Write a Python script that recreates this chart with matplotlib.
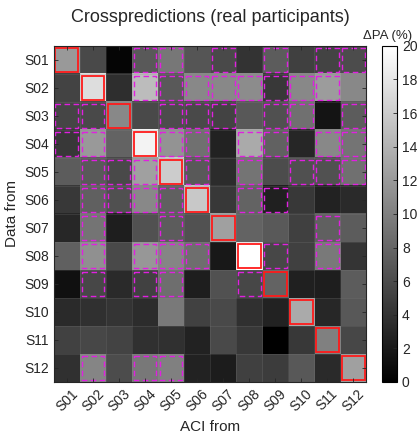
import numpy as np
import matplotlib
matplotlib.use("Agg")
import matplotlib.pyplot as plt
from matplotlib.patches import Rectangle

plt.rcParams['font.family'] = ['Liberation Sans', 'DejaVu Sans']
plt.rcParams['text.color'] = "#262626"
plt.rcParams['axes.labelcolor'] = "#262626"
plt.rcParams['xtick.color'] = "#262626"
plt.rcParams['ytick.color'] = "#262626"

# Dados
labels = ["S01", "S02", "S03", "S04", "S05", "S06", "S07", "S08", "S09", "S10", "S11", "S12"]

row_s01 = [12.0, 5.8, 0.4, 7.0, 9.3, 6.7, 5.8, 4.0, 7.2, 5.0, 5.3, 6.0]
row_s02 = [5.3, 17.3, 3.6, 14.7, 7.0, 10.7, 10.7, 11.0, 4.4, 10.7, 12.2, 10.7]
row_s03 = [5.4, 5.8, 10.7, 5.8, 6.0, 5.8, 5.3, 6.9, 6.3, 8.8, 1.6, 7.2]
row_s04 = [4.5, 12.0, 7.8, 19.0, 11.6, 8.8, 2.7, 13.3, 7.7, 3.0, 10.7, 9.1]
row_s05 = [7.2, 7.0, 5.8, 12.5, 16.0, 7.0, 3.5, 9.1, 6.0, 6.3, 6.4, 8.8]
row_s06 = [4.5, 7.5, 6.3, 10.7, 7.5, 15.7, 4.5, 7.8, 2.5, 4.4, 2.7, 3.3]
row_s07 = [3.1, 9.1, 2.4, 6.4, 7.2, 6.4, 12.5, 7.8, 7.0, 5.0, 7.5, 7.2]
row_s08 = [7.5, 11.3, 5.8, 11.8, 10.4, 8.6, 1.9, 20.0, 5.6, 5.0, 9.6, 4.2]
row_s09 = [1.3, 5.6, 3.3, 5.2, 8.6, 2.4, 6.4, 5.6, 7.8, 2.5, 2.4, 7.2]
row_s10 = [3.3, 3.8, 4.2, 3.5, 9.6, 5.2, 5.8, 3.8, 2.7, 13.3, 3.1, 6.9]
row_s11 = [5.2, 5.6, 5.3, 3.8, 3.9, 2.7, 5.8, 4.4, 0.0, 4.5, 10.0, 5.6]
row_s12 = [3.8, 10.4, 6.0, 9.4, 10.0, 2.7, 2.2, 5.0, 4.7, 6.9, 3.3, 12.5]

# colunas marcadas com contorno tracejado, por linha
dashed_s01 = [3, 4, 6, 8, 10, 11]
dashed_s02 = [3, 4, 5, 6, 7, 8, 9, 10]
dashed_s03 = [0, 1, 4, 5, 6, 8, 9, 11]
dashed_s04 = [0, 1, 4, 5, 7, 8, 10, 11]
dashed_s05 = [1, 2, 3, 5, 7, 9, 10, 11]
dashed_s06 = [1, 2, 3, 4, 7, 8]
dashed_s07 = [1, 4, 10]
dashed_s08 = [1, 3, 4, 5, 8, 10]
dashed_s09 = [1, 3, 4, 7]
dashed_s10 = []
dashed_s11 = []
dashed_s12 = [1, 3, 4]

data = np.array([row_s01, row_s02, row_s03, row_s04, row_s05, row_s06,
                 row_s07, row_s08, row_s09, row_s10, row_s11, row_s12])
dashed = [dashed_s01, dashed_s02, dashed_s03, dashed_s04, dashed_s05, dashed_s06,
          dashed_s07, dashed_s08, dashed_s09, dashed_s10, dashed_s11, dashed_s12]

# Figura
fig = plt.figure(figsize=(4.18, 4.37), dpi=100)
ax = fig.add_axes([0.129, 0.126, 0.747, 0.769])
cax = fig.add_axes([0.914, 0.126, 0.036, 0.769])

im = ax.imshow(data, cmap="gray", vmin=0, vmax=20, aspect="auto")

# linhas finas entre as celulas
for k in range(13):
    ax.axhline(k - 0.5, color="#888888", lw=0.4, alpha=0.35)
    ax.axvline(k - 0.5, color="#888888", lw=0.4, alpha=0.35)

# contornos
for i in range(12):
    for j in dashed[i]:
        ax.add_patch(Rectangle((j - 0.44, i - 0.44), 0.88, 0.88, fill=False,
                               edgecolor="#e020e0", lw=1.0, linestyle=(0, (4, 2.5))))
    ax.add_patch(Rectangle((i - 0.44, i - 0.44), 0.88, 0.88, fill=False,
                           edgecolor="#ff1a1a", lw=1.3))

ax.set_xticks(range(12))
ax.set_yticks(range(12))
ax.set_xticklabels(labels, rotation=45, fontsize=10)
ax.set_yticklabels(labels, fontsize=10)
ax.tick_params(direction="in", top=True, right=True, length=3, width=0.6)
ax.set_xlabel("ACI from", fontsize=11)
ax.set_ylabel("Data from", fontsize=11)
ax.set_title("Crosspredictions (real participants)", fontsize=13, pad=17)
for s in ax.spines.values():
    s.set_linewidth(0.8)
    s.set_color("#262626")

cb = fig.colorbar(im, cax=cax, ticks=range(0, 21, 2))
cb.ax.tick_params(direction="in", length=3, labelsize=10, width=0.6)
cb.outline.set_linewidth(0.8)
fig.text(0.926, 0.905, "ΔPA (%)", fontsize=9.5, ha="center", va="bottom")

fig.savefig("out.png", dpi=100)
